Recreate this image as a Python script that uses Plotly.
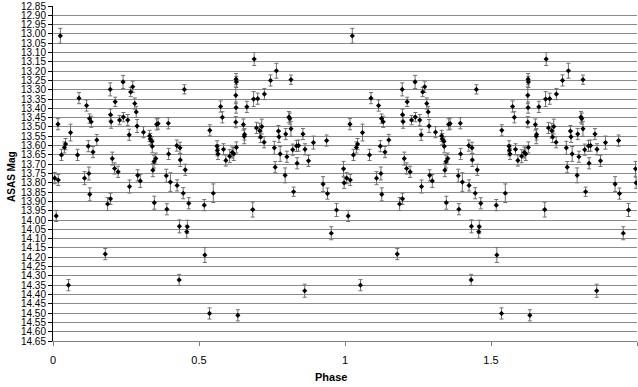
import plotly.graph_objects as go

# Phase-folded ASAS light curve: phase, magnitude, 1-sigma error
phase = [
    0.006, 0.018, 0.017, 0.025, 0.011, 0.029, 0.039, 0.043, 0.053, 0.060,
    0.084, 0.089, 0.108, 0.115, 0.121, 0.123, 0.125, 0.126, 0.131, 0.137,
    0.150, 0.179, 0.187, 0.196, 0.197, 0.197, 0.199, 0.203, 0.211, 0.213,
    0.223, 0.228, 0.240, 0.241, 0.256, 0.261, 0.262, 0.266, 0.273, 0.280,
    0.285, 0.288, 0.290, 0.299, 0.310, 0.331, 0.333, 0.339, 0.340, 0.342,
    0.346, 0.347, 0.352, 0.355, 0.360, 0.388, 0.390, 0.395, 0.396, 0.402,
    0.424, 0.425, 0.432, 0.433, 0.435, 0.436, 0.446, 0.450, 0.453, 0.458,
    0.460, 0.465, 0.518, 0.520, 0.536, 0.537, 0.549, 0.562, 0.563, 0.565,
    0.574, 0.580, 0.584, 0.592, 0.605, 0.614, 0.619, 0.626, 0.627, 0.628,
    0.627, 0.626, 0.628, 0.633, 0.652, 0.655, 0.656, 0.664, 0.684, 0.687,
    0.689, 0.697, 0.701, 0.708, 0.711, 0.715, 0.723, 0.724, 0.745, 0.758,
    0.761, 0.765, 0.772, 0.774, 0.778, 0.795, 0.797, 0.801, 0.808, 0.811,
    0.815, 0.815, 0.821, 0.824, 0.834, 0.836, 0.841, 0.856, 0.862, 0.863,
    0.875, 0.892, 0.925, 0.937, 0.940, 0.953, 0.971, 0.995, 0.997,
]
mag = [
    13.775, 13.785, 13.485, 13.010, 13.978, 13.650, 13.610, 13.592, 14.350, 13.530,
    13.650, 13.345, 13.775, 13.385, 13.603, 13.750, 13.455, 13.862, 13.472, 13.635,
    13.570, 14.183, 13.914, 13.298, 13.434, 13.886, 13.472, 13.670, 13.723, 13.365,
    13.741, 13.463, 13.258, 13.447, 13.463, 13.542, 13.820, 13.312, 13.284, 13.374,
    13.419, 13.495, 13.760, 13.790, 13.528, 13.548, 13.565, 13.578, 13.604, 13.732,
    13.686, 13.907, 13.670, 13.486, 13.482, 13.762, 13.942, 13.480, 13.645, 13.796,
    13.600, 13.814, 14.322, 14.034, 13.612, 13.677, 13.856, 13.298, 13.730, 14.063,
    14.036, 13.910, 13.920, 14.188, 14.502, 13.518, 13.856, 13.604, 13.625, 13.645,
    13.390, 13.448, 13.620, 13.680, 13.657, 13.637, 13.645, 13.330, 13.243, 13.258,
    13.396, 13.474, 13.610, 14.512, 13.487, 13.550, 13.540, 13.392, 13.944, 13.350,
    13.135, 13.505, 13.348, 13.520, 13.554, 13.498, 13.582, 13.323, 13.250, 13.612,
    13.716, 13.198, 13.522, 13.553, 13.645, 13.760, 13.538, 13.660, 13.447, 13.455,
    13.246, 13.510, 13.622, 13.848, 13.602, 13.695, 13.600, 13.538, 14.380, 13.620,
    13.682, 13.584, 13.807, 13.573, 13.858, 14.071, 13.946, 13.725, 13.800,
]
mag_err = [
    0.030, 0.030, 0.030, 0.040, 0.030, 0.030, 0.030, 0.030, 0.030, 0.045,
    0.030, 0.030, 0.035, 0.030, 0.030, 0.035, 0.025, 0.035, 0.030, 0.030,
    0.030, 0.030, 0.035, 0.035, 0.030, 0.030, 0.035, 0.035, 0.030, 0.025,
    0.030, 0.025, 0.035, 0.025, 0.030, 0.030, 0.035, 0.025, 0.030, 0.030,
    0.030, 0.035, 0.030, 0.035, 0.030, 0.030, 0.030, 0.025, 0.035, 0.035,
    0.035, 0.035, 0.030, 0.030, 0.030, 0.035, 0.030, 0.030, 0.030, 0.050,
    0.030, 0.030, 0.030, 0.035, 0.030, 0.035, 0.030, 0.025, 0.030, 0.035,
    0.035, 0.030, 0.030, 0.040, 0.030, 0.030, 0.050, 0.030, 0.030, 0.030,
    0.030, 0.030, 0.030, 0.030, 0.035, 0.030, 0.035, 0.045, 0.030, 0.030,
    0.030, 0.030, 0.030, 0.030, 0.030, 0.040, 0.030, 0.030, 0.040, 0.040,
    0.035, 0.030, 0.030, 0.040, 0.030, 0.040, 0.030, 0.030, 0.030, 0.035,
    0.030, 0.040, 0.030, 0.030, 0.040, 0.040, 0.030, 0.030, 0.030, 0.030,
    0.025, 0.040, 0.030, 0.025, 0.030, 0.030, 0.030, 0.030, 0.035, 0.030,
    0.030, 0.035, 0.040, 0.030, 0.030, 0.035, 0.035, 0.040, 0.030,
]

x_ticks = [0, 0.5, 1, 1.5, 2]
x_tick_text = ["0", "0.5", "1", "1.5", "2"]

# Plot two full cycles: the folded data and the same data shifted by one phase
x_all = phase + [p + 1 for p in phase]
y_all = mag + mag
e_all = mag_err + mag_err

FONT = "Liberation Sans, Arial, sans-serif"

fig = go.Figure()
fig.add_trace(go.Scatter(
    x=x_all,
    y=y_all,
    mode="markers",
    marker=dict(symbol="diamond", size=4, color="#000000"),
    error_y=dict(type="data", array=e_all, visible=True,
                 color="#707070", thickness=1, width=2),
    showlegend=False,
    hoverinfo="skip",
))

fig.update_layout(
    width=638,
    height=387,
    margin=dict(l=53, r=1, t=6, b=46),
    paper_bgcolor="#ffffff",
    plot_bgcolor="#ffffff",
    font=dict(family=FONT, size=10, color="#000000"),
    xaxis=dict(
        range=[0, 2],
        tickvals=x_ticks,
        ticktext=x_tick_text,
        showgrid=False,
        zeroline=False,
        showline=True,
        linecolor="#808080",
        linewidth=1,
        ticks="outside",
        ticklen=4,
        tickcolor="#808080",
        tickfont=dict(family=FONT, size=11, color="#000000"),
        ticklabelstandoff=5,
    ),
    yaxis=dict(
        range=[14.65, 12.85],
        dtick=0.05,
        tick0=12.85,
        tickformat=".2f",
        showgrid=True,
        gridcolor="#8a8a8a",
        gridwidth=1,
        zeroline=False,
        showline=True,
        linecolor="#000000",
        linewidth=1,
        ticks="outside",
        ticklen=4,
        tickcolor="#000000",
        tickfont=dict(family=FONT, size=10, color="#000000"),
    ),
    annotations=[
        dict(text="<b>ASAS Mag</b>", xref="paper", yref="paper",
             x=-0.070, y=0.49, textangle=-90, showarrow=False,
             xanchor="center", yanchor="middle",
             font=dict(family=FONT, size=10, color="#000000")),
        dict(text="<b>Phase</b>", xref="paper", yref="paper",
             x=0.476, y=-0.107, showarrow=False,
             xanchor="center", yanchor="middle",
             font=dict(family=FONT, size=11, color="#000000")),
    ],
)

fig.write_html("out.html")
